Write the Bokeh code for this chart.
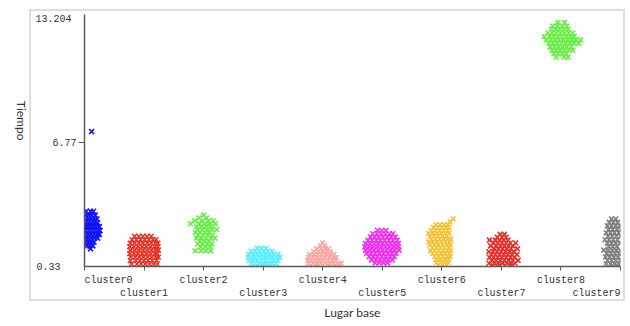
from math import pi

from bokeh.plotting import figure
from bokeh.models import (ColumnDataSource, Range1d, FixedTicker, LinearAxis, Title)
from bokeh.embed import file_html
from bokeh.resources import INLINE

# Cluster names along the "Lugar base" axis
cluster_names = ["cluster0", "cluster1", "cluster2", "cluster3", "cluster4",
                 "cluster5", "cluster6", "cluster7", "cluster8", "cluster9"]

cluster_colors = ["#1010ff", "#e8352a", "#66ee44", "#5ceeff", "#f5aaa4",
                  "#ee33ee", "#f4c43a", "#e8302a", "#66f044", "#808080"]

# Tiempo axis: minimum, marked value and maximum
y_min, y_mid, y_max = 0.33, 6.77, 13.204

# Each cluster: rows of (tiempo, [jitter offsets around the cluster position])
cluster0_rows = [
    (3.20, [0.03, 0.10, 0.15]),
    (3.00, [-0.04, 0.02, 0.07, 0.12, 0.18]),
    (2.80, [-0.08, 0.01, 0.06, 0.11, 0.16, 0.21]),
    (2.60, [-0.10, 0.02, 0.07, 0.12, 0.17, 0.22]),
    (2.40, [-0.12, 0.01, 0.05, 0.10, 0.15, 0.20, 0.25]),
    (2.20, [-0.14, 0.02, 0.07, 0.12, 0.17, 0.22, 0.26]),
    (2.00, [-0.11, 0.01, 0.06, 0.11, 0.16, 0.21, 0.25]),
    (1.80, [-0.09, 0.02, 0.07, 0.12, 0.17, 0.22]),
    (1.60, [-0.06, 0.01, 0.06, 0.11, 0.16]),
    (1.40, [0.04, 0.09, 0.14]),
    (1.25, [0.10]),
    (7.34, [0.12]),
]
cluster1_rows = [
    (1.90, [-0.16, -0.09, -0.02, 0.05, 0.12]),
    (1.72, [-0.20, -0.13, -0.06, 0.01, 0.08, 0.15, 0.20]),
    (1.54, [-0.23, -0.16, -0.09, -0.02, 0.05, 0.12, 0.19, 0.23]),
    (1.36, [-0.24, -0.17, -0.10, -0.03, 0.04, 0.11, 0.18, 0.23]),
    (1.18, [-0.23, -0.16, -0.09, -0.02, 0.05, 0.12, 0.19, 0.24]),
    (1.00, [-0.24, -0.17, -0.10, -0.03, 0.04, 0.11, 0.18, 0.22]),
    (0.82, [-0.22, -0.15, -0.08, -0.01, 0.06, 0.13, 0.20, 0.24]),
    (0.64, [-0.23, -0.14, -0.07, 0.00, 0.07, 0.14, 0.21]),
    (0.46, [-0.21, -0.12, -0.05, 0.02, 0.09, 0.16, 0.22]),
]
cluster2_rows = [
    (3.00, [0.00]),
    (2.85, [-0.08, 0.05]),
    (2.70, [-0.15, -0.03, 0.08, 0.16]),
    (2.55, [-0.22, -0.07, 0.02, 0.10, 0.20]),
    (2.40, [-0.12, -0.04, 0.04, 0.12]),
    (2.25, [-0.10, -0.02, 0.06, 0.14, 0.22]),
    (2.10, [-0.14, -0.06, 0.02, 0.09]),
    (1.95, [-0.09, -0.01, 0.07, 0.15]),
    (1.80, [-0.12, -0.04, 0.04, 0.12, 0.19]),
    (1.65, [-0.07, 0.01, 0.09]),
    (1.50, [-0.10, -0.02, 0.06, 0.14]),
    (1.35, [-0.05, 0.03, 0.11]),
    (1.15, [-0.14, -0.04, 0.04, 0.12]),
]
cluster3_rows = [
    (1.28, [-0.10, -0.03, 0.05]),
    (1.12, [-0.20, -0.13, -0.06, 0.01, 0.08, 0.15]),
    (0.96, [-0.24, -0.17, -0.10, -0.03, 0.04, 0.11, 0.18, 0.25]),
    (0.80, [-0.25, -0.18, -0.11, -0.04, 0.03, 0.10, 0.17, 0.24, 0.28]),
    (0.64, [-0.24, -0.17, -0.10, -0.03, 0.04, 0.11, 0.18, 0.25]),
    (0.48, [-0.20, -0.13, -0.06, 0.01, 0.08, 0.15, 0.22]),
    (0.38, [-0.10, 0.00, 0.10]),
]
cluster4_rows = [
    (1.55, [0.00]),
    (1.40, [-0.04, 0.03]),
    (1.25, [-0.10, -0.02, 0.05, 0.10]),
    (1.10, [-0.15, -0.07, 0.00, 0.07, 0.13]),
    (0.95, [-0.22, -0.15, -0.08, -0.01, 0.06, 0.13, 0.19]),
    (0.80, [-0.24, -0.17, -0.10, -0.03, 0.04, 0.11, 0.18, 0.22]),
    (0.65, [-0.25, -0.18, -0.11, -0.04, 0.03, 0.10, 0.17, 0.22]),
    (0.50, [-0.24, -0.17, -0.10, -0.03, 0.04, 0.11, 0.18, 0.26, 0.31]),
    (0.38, [-0.20, -0.10, 0.00, 0.10, 0.20, 0.28]),
]
cluster5_rows = [
    (2.20, [-0.08, -0.01, 0.06]),
    (2.03, [-0.16, -0.09, -0.02, 0.05, 0.12, 0.18]),
    (1.86, [-0.20, -0.13, -0.06, 0.01, 0.08, 0.15, 0.22]),
    (1.69, [-0.24, -0.17, -0.10, -0.03, 0.04, 0.11, 0.18, 0.25]),
    (1.52, [-0.28, -0.21, -0.14, -0.07, 0.00, 0.07, 0.14, 0.21, 0.27]),
    (1.35, [-0.29, -0.22, -0.15, -0.08, -0.01, 0.06, 0.13, 0.20, 0.27]),
    (1.18, [-0.28, -0.21, -0.14, -0.07, 0.00, 0.07, 0.14, 0.21, 0.28]),
    (1.01, [-0.26, -0.19, -0.12, -0.05, 0.02, 0.09, 0.16, 0.23]),
    (0.84, [-0.22, -0.15, -0.08, -0.01, 0.06, 0.13, 0.20]),
    (0.67, [-0.18, -0.11, -0.04, 0.03, 0.10, 0.17]),
    (0.52, [-0.12, -0.05, 0.02, 0.09]),
]
cluster6_rows = [
    (2.80, [0.19]),
    (2.65, [0.14]),
    (2.50, [-0.10, -0.03, 0.04, 0.10]),
    (2.35, [-0.14, -0.07, 0.00, 0.07, 0.12]),
    (2.20, [-0.18, -0.11, -0.04, 0.03, 0.10]),
    (2.05, [-0.22, -0.15, -0.08, -0.01, 0.06, 0.12]),
    (1.90, [-0.20, -0.13, -0.06, 0.01, 0.08]),
    (1.75, [-0.18, -0.11, -0.04, 0.03, 0.10, 0.15]),
    (1.60, [-0.22, -0.15, -0.08, -0.01, 0.06, 0.13]),
    (1.45, [-0.20, -0.13, -0.06, 0.01, 0.08, 0.14]),
    (1.30, [-0.16, -0.09, -0.02, 0.05, 0.12]),
    (1.15, [-0.19, -0.12, -0.05, 0.02, 0.09, 0.15]),
    (1.00, [-0.15, -0.08, -0.01, 0.06, 0.13]),
    (0.85, [-0.12, -0.05, 0.02, 0.09, 0.14]),
    (0.70, [-0.10, -0.03, 0.04, 0.11]),
    (0.55, [-0.09, -0.02, 0.05, 0.11]),
    (0.40, [-0.06, 0.01, 0.08]),
]
cluster7_rows = [
    (2.00, [-0.02, 0.05]),
    (1.85, [-0.07, 0.01, 0.08]),
    (1.70, [-0.20, -0.10, -0.03, 0.04, 0.11]),
    (1.55, [-0.13, -0.06, 0.01, 0.08, 0.15, 0.24]),
    (1.40, [-0.18, -0.09, -0.02, 0.05, 0.12, 0.19]),
    (1.25, [-0.12, -0.05, 0.02, 0.09, 0.16, 0.27]),
    (1.10, [-0.21, -0.14, -0.07, 0.00, 0.07, 0.14, 0.21]),
    (0.95, [-0.17, -0.10, -0.03, 0.04, 0.11, 0.18, 0.26]),
    (0.80, [-0.20, -0.13, -0.06, 0.01, 0.08, 0.15, 0.22]),
    (0.65, [-0.16, -0.09, -0.02, 0.05, 0.12, 0.19, 0.28]),
    (0.50, [-0.21, -0.12, -0.05, 0.02, 0.09, 0.16, 0.23]),
    (0.38, [-0.14, -0.04, 0.06, 0.16]),
]
cluster8_rows = [
    (13.00, [-0.05, 0.06]),
    (12.82, [-0.14, -0.06, 0.02, 0.10]),
    (12.64, [-0.16, -0.09, -0.02, 0.05, 0.12]),
    (12.46, [-0.22, -0.15, -0.08, -0.01, 0.06, 0.13, 0.20]),
    (12.28, [-0.28, -0.19, -0.12, -0.05, 0.02, 0.09, 0.16, 0.22]),
    (12.10, [-0.25, -0.17, -0.10, -0.03, 0.04, 0.11, 0.18, 0.25, 0.33]),
    (11.92, [-0.20, -0.13, -0.06, 0.01, 0.08, 0.15, 0.22, 0.30]),
    (11.74, [-0.18, -0.11, -0.04, 0.03, 0.10, 0.17]),
    (11.56, [-0.15, -0.08, -0.01, 0.06, 0.13, 0.20]),
    (11.38, [-0.12, -0.05, 0.02, 0.09]),
    (11.20, [-0.08, 0.05, 0.12]),
]
cluster9_rows = [
    (2.80, [-0.15, -0.08]),
    (2.62, [-0.19, -0.12, -0.05, 0.05]),
    (2.44, [-0.22, -0.15, -0.08, -0.01]),
    (2.26, [-0.20, -0.13, -0.06, 0.01, 0.10]),
    (2.08, [-0.24, -0.17, -0.10, -0.03]),
    (1.90, [-0.21, -0.14, -0.07, 0.00, 0.08]),
    (1.72, [-0.26, -0.19, -0.12, -0.05]),
    (1.54, [-0.22, -0.15, -0.08, -0.01, 0.12]),
    (1.36, [-0.20, -0.13, -0.06]),
    (1.18, [-0.28, -0.21, -0.14, -0.07, 0.00]),
    (1.00, [-0.23, -0.16, -0.09, -0.02, 0.09]),
    (0.82, [-0.25, -0.18, -0.11, -0.04]),
    (0.64, [-0.22, -0.15, -0.08, -0.01]),
    (0.46, [-0.24, -0.17, -0.10, -0.03]),
    (0.36, [-0.14, -0.05]),
]

all_clusters = [cluster0_rows, cluster1_rows, cluster2_rows, cluster3_rows,
                cluster4_rows, cluster5_rows, cluster6_rows, cluster7_rows,
                cluster8_rows, cluster9_rows]

xs, ys, colors = [], [], []
for idx, rows in enumerate(all_clusters):
    for tiempo, offsets in rows:
        for dx in offsets:
            xs.append(idx + dx)
            ys.append(tiempo)
            colors.append(cluster_colors[idx])
source = ColumnDataSource(data=dict(x=xs, y=ys, color=colors))

MONO = "Liberation Mono"
TEXT = "#333333"
AXIS = "#5a5a5a"
FONT_PX = 10

W, H = 630, 326
LEFT, RIGHT, TOP, BOTTOM = 84, 10, 14, 60
n_last = len(cluster_names) - 1
px_per_cluster = (W - LEFT - RIGHT) / n_last

p = figure(width=W, height=H, output_backend="svg", toolbar_location=None,
           x_range=Range1d(0, n_last), y_range=Range1d(y_min, 13.42),
           min_border_left=LEFT, min_border_right=RIGHT,
           min_border_top=TOP, min_border_bottom=BOTTOM,
           background_fill_color=None, border_fill_color=None,
           outline_line_color=None)
p.grid.visible = False

# Light panel frame behind the chart, drawn on the page element
edge = "linear-gradient(#dedede, #dedede)"
p.styles = {
    "background-color": "white",
    "background-image": ", ".join([edge] * 4),
    "background-repeat": "no-repeat",
    "background-size": "596px 2px, 596px 2px, 2px 292px, 2px 292px",
    "background-position": "29px 9px, 29px 299px, 29px 9px, 623px 9px",
}

p.scatter(x="x", y="y", source=source, marker="x", size=7,
          line_color="color", line_width=1.6)


def label_axis(ticks, names, standoff):
    """Axis that only carries text labels (no line, no tick marks)."""
    return LinearAxis(ticker=FixedTicker(ticks=ticks),
                      major_label_overrides=dict(zip(ticks, names)),
                      axis_line_color=None, major_tick_line_color=None,
                      minor_tick_line_color=None, major_tick_out=0, major_tick_in=0,
                      major_label_standoff=standoff, major_label_text_font=MONO,
                      major_label_text_font_size=f"{FONT_PX}px",
                      major_label_text_color=TEXT)


# X axis line with a tick mark for every cluster
ticks = list(range(len(cluster_names)))
xa = p.xaxis[0]
xa.ticker = FixedTicker(ticks=ticks)
xa.major_label_overrides = {i: "" for i in ticks}
xa.major_label_text_font_size = "0px"
xa.major_label_standoff = 0
xa.axis_line_color = AXIS
xa.axis_line_width = 1.5
xa.major_tick_line_color = AXIS
xa.major_tick_out = 4
xa.major_tick_in = 0

# Two staggered rows of cluster names; the end names are kept inside the panel
half_name = round(len(cluster_names[0]) * 0.6 * FONT_PX / 2 / px_per_cluster, 3)
even_ticks = [half_name] + ticks[2:n_last:2]
odd_ticks = ticks[1:n_last:2] + [round(n_last - half_name, 3)]
p.add_layout(label_axis(even_ticks, cluster_names[0::2][:len(even_ticks)], 4), "below")
p.add_layout(label_axis(odd_ticks, cluster_names[1::2], -1), "below")

p.add_layout(Title(text="Lugar base", align="center", offset=20, standoff=2,
                   text_font="Lato", text_font_size="12px",
                   text_font_style="normal", text_color=TEXT), "below")

# Y axis: line and the marked middle value
ya = p.yaxis[0]
ya.ticker = FixedTicker(ticks=[y_mid])
ya.axis_line_color = AXIS
ya.axis_line_width = 1.5
ya.major_tick_line_color = AXIS
ya.major_tick_out = 6
ya.major_tick_in = 0
ya.major_label_standoff = 2
ya.major_label_text_font = MONO
ya.major_label_text_font_size = f"{FONT_PX}px"
ya.major_label_text_color = TEXT

# Extreme values of Tiempo, written further left
p.add_layout(label_axis([y_max], [f"{y_max:g}"], -22), "left")
y_low = label_axis([y_min], [f"{y_min:g}"], -28)
y_low.axis_label = "Tiempo"
y_low.axis_label_orientation = -pi / 2
y_low.axis_label_standoff = 12
y_low.axis_label_text_font = "Lato"
y_low.axis_label_text_font_size = "12px"
y_low.axis_label_text_font_style = "normal"
y_low.axis_label_text_color = TEXT
p.add_layout(y_low, "left")

open("out.html", "w").write(file_html(p, INLINE))
